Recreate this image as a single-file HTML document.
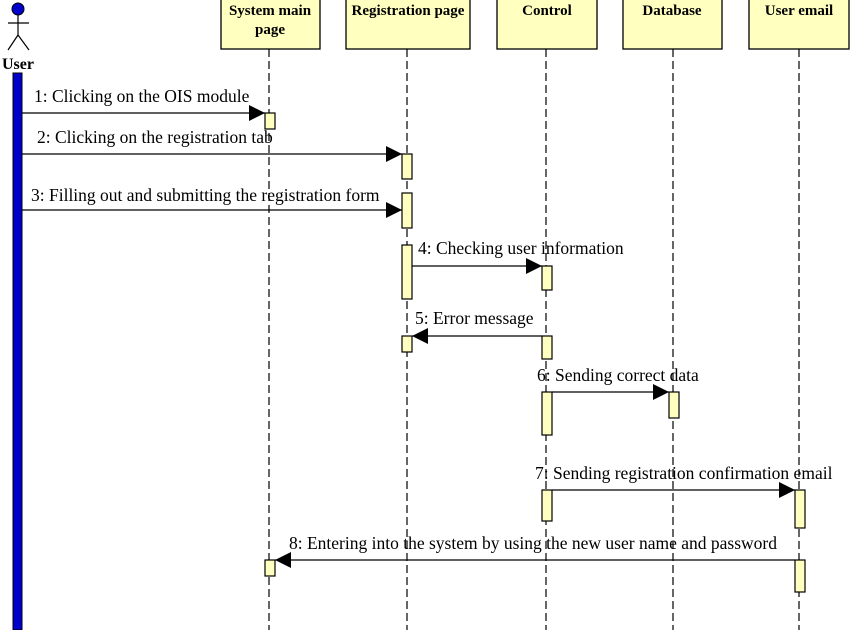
<!DOCTYPE html>
<html><head><style>body{margin:0;background:#fff}svg{display:block}</style></head>
<body>
<svg width="850" height="630" xmlns="http://www.w3.org/2000/svg" font-family="Liberation Serif, serif">
<defs><marker id="a" viewBox="0 0 16 16" refX="16" refY="8" markerWidth="16" markerHeight="16" markerUnits="userSpaceOnUse" orient="auto"><path d="M0,0L16,8L0,16z" fill="#000"/></marker></defs>
<g fill="#ffffc0" stroke="#000" stroke-width="1.3">
<rect x="221" y="-1" width="99" height="50"/>
<rect x="346" y="-1" width="124" height="50"/>
<rect x="497" y="-1" width="100" height="50"/>
<rect x="623" y="-1" width="99" height="50"/>
<rect x="749" y="-1" width="100" height="50"/>
</g>
<g font-weight="bold" font-size="15" text-anchor="middle">
<text x="270" y="15">System main</text><text x="270" y="34">page</text>
<text x="408" y="15">Registration page</text>
<text x="547" y="15">Control</text>
<text x="672" y="15">Database</text>
<text x="799" y="15">User email</text>
</g>
<g stroke="#000" stroke-width="1.2" stroke-dasharray="8,4">
<line x1="269" y1="49" x2="269" y2="630"/><line x1="407" y1="49" x2="407" y2="630"/>
<line x1="546" y1="49" x2="546" y2="630"/><line x1="673" y1="49" x2="673" y2="630"/>
<line x1="799" y1="49" x2="799" y2="630"/>
</g>
<circle cx="18" cy="9" r="6" fill="#0000cc" stroke="#000"/>
<g stroke="#000" stroke-width="1.2" fill="none"><path d="M18,15V35M8,23H29M18,35L8,50M18,35L29,50"/></g>
<text x="18" y="69" font-weight="bold" font-size="16" text-anchor="middle">User</text>
<rect x="13" y="73" width="9" height="557" fill="#0000cc" stroke="#000"/>
<g fill="#ffffc0" stroke="#000" stroke-width="1.2">
<rect x="265" y="113" width="10" height="16"/>
<rect x="402" y="154" width="10" height="25"/><rect x="402" y="193" width="10" height="35"/>
<rect x="402" y="245" width="10" height="54"/><rect x="402" y="336" width="10" height="16"/>
<rect x="542" y="266" width="10" height="24"/><rect x="542" y="336" width="10" height="23"/>
<rect x="542" y="392" width="10" height="43"/><rect x="542" y="490" width="10" height="31"/>
<rect x="669" y="392" width="10" height="26"/>
<rect x="795" y="490" width="10" height="38"/><rect x="795" y="560" width="10" height="32"/>
<rect x="265" y="560" width="10" height="16"/>
</g>
<g stroke="#000" stroke-width="1.3" marker-end="url(#a)">
<line x1="22" y1="113" x2="265" y2="113"/>
<line x1="22" y1="154" x2="402" y2="154"/>
<line x1="22" y1="210" x2="402" y2="210"/>
<line x1="412" y1="266" x2="542" y2="266"/>
<line x1="542" y1="336" x2="412" y2="336"/>
<line x1="552" y1="392" x2="669" y2="392"/>
<line x1="552" y1="490" x2="795" y2="490"/>
<line x1="795" y1="560" x2="275" y2="560"/>
</g>
<g font-size="17.5">
<text x="34" y="102">1: Clicking on the OIS module</text>
<text x="37" y="143">2: Clicking on the registration tab</text>
<text x="31" y="201">3: Filling out and submitting the registration form</text>
<text x="418" y="254">4: Checking user information</text>
<text x="415" y="324">5: Error message</text>
<text x="537" y="381">6: Sending correct data</text>
<text x="535" y="479">7: Sending registration confirmation email</text>
<text x="289" y="549">8: Entering into the system by using the new user name and password</text>
</g>
</svg>
</body></html>
